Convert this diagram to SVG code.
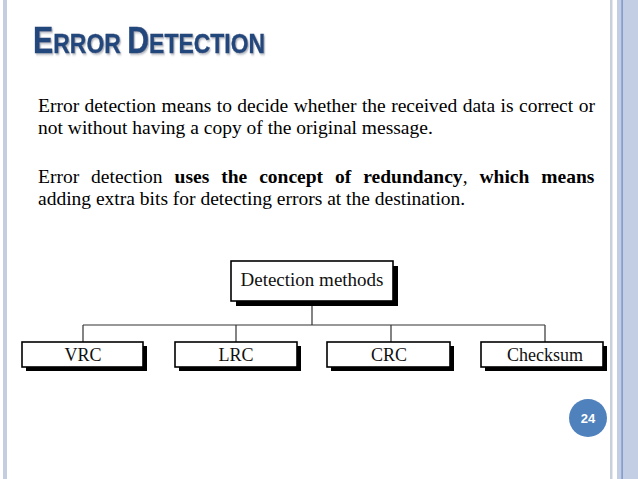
<svg xmlns="http://www.w3.org/2000/svg" width="638" height="479" viewBox="0 0 638 479">
<defs>
<filter id="tshadow" x="-5%" y="-20%" width="110%" height="150%">
<feDropShadow dx="1.5" dy="1.5" stdDeviation="0.8" flood-color="#8a929e" flood-opacity="0.7"/>
</filter>
</defs>
<style>
.body{font-family:"Liberation Sans",Arial,sans-serif;font-family:"Liberation Serif","Times New Roman",serif;font-size:19.5px;fill:#000}
.b{font-weight:bold}
.title{font-family:"Liberation Sans",Arial,sans-serif;font-weight:bold;fill:#23477b;stroke:#23477b;stroke-width:0.4}
.box{fill:#fff;stroke:#000;stroke-width:1.6}
.shadow{fill:#000}
.lbl{font-family:"Liberation Serif","Times New Roman",serif;fill:#111;text-anchor:middle}
.conn{fill:none;stroke:#333;stroke-width:1.2}
</style>
<rect x="0" y="0" width="638" height="479" fill="#fff"/>
<!-- borders -->
<rect x="3" y="0" width="4" height="479" fill="#c5cee0"/>
<rect x="610" y="0" width="2.5" height="479" fill="#c9d0dc"/>
<rect x="617" y="0" width="21" height="479" fill="#c3cde4"/>
<rect x="621.5" y="0" width="1.2" height="479" fill="#6d8cbf"/>
<!-- title -->
<g transform="translate(33,53) scale(0.82,1)" filter="url(#tshadow)">
<text class="title" x="0" y="0"><tspan font-size="37">E</tspan><tspan font-size="28">RROR </tspan><tspan font-size="37">D</tspan><tspan font-size="28">ETECTION</tspan></text>
</g>
<!-- body text -->
<text class="body" x="38" y="112" word-spacing="0.57">Error detection means to decide whether the received data is correct or</text>
<text class="body" x="38" y="134">not without having a copy of the original message.</text>
<text class="body" x="38" y="183" word-spacing="7.1">Error detection <tspan class="b">uses the concept of redundancy</tspan>, <tspan class="b">which means</tspan></text>
<text class="body" x="38" y="205">adding extra bits for detecting errors at the destination.</text>
<!-- connectors -->
<g id="connectors">
<path class="conn" d="M312 302 V325 M83 325 H545 M83 325 V342 M236 325 V342 M391 325 V342 M545 325 V342"/>
</g>
<!-- nodes -->
<g id="node-detection">
<rect class="shadow" x="236" y="266" width="162" height="40"/>
<rect class="box" x="231" y="261" width="162" height="40"/>
<text class="lbl" x="312" y="285.5" font-size="19">Detection methods</text>
</g>
<g id="node-vrc">
<rect class="shadow" x="26" y="346" width="121" height="25"/>
<rect class="box" x="22" y="342" width="121" height="25"/>
<text class="lbl" x="83" y="361" font-size="18">VRC</text>
</g>
<g id="node-lrc">
<rect class="shadow" x="179" y="346" width="122" height="25"/>
<rect class="box" x="175" y="342" width="122" height="25"/>
<text class="lbl" x="236" y="361" font-size="18">LRC</text>
</g>
<g id="node-crc">
<rect class="shadow" x="331" y="346" width="123" height="25"/>
<rect class="box" x="327" y="342" width="123" height="25"/>
<text class="lbl" x="389" y="361" font-size="18">CRC</text>
</g>
<g id="node-checksum">
<rect class="shadow" x="485" y="346" width="122" height="25"/>
<rect class="box" x="481" y="342" width="122" height="25"/>
<text class="lbl" x="545" y="361" font-size="18">Checksum</text>
</g>
<!-- page number -->
<g id="page-number">
<circle cx="588" cy="418" r="19" fill="#4f81bd"/>
<text x="588" y="422.5" font-family="Liberation Sans, Arial, sans-serif" font-weight="bold" font-size="13" fill="#fff" text-anchor="middle">24</text>
</g>
</svg>
